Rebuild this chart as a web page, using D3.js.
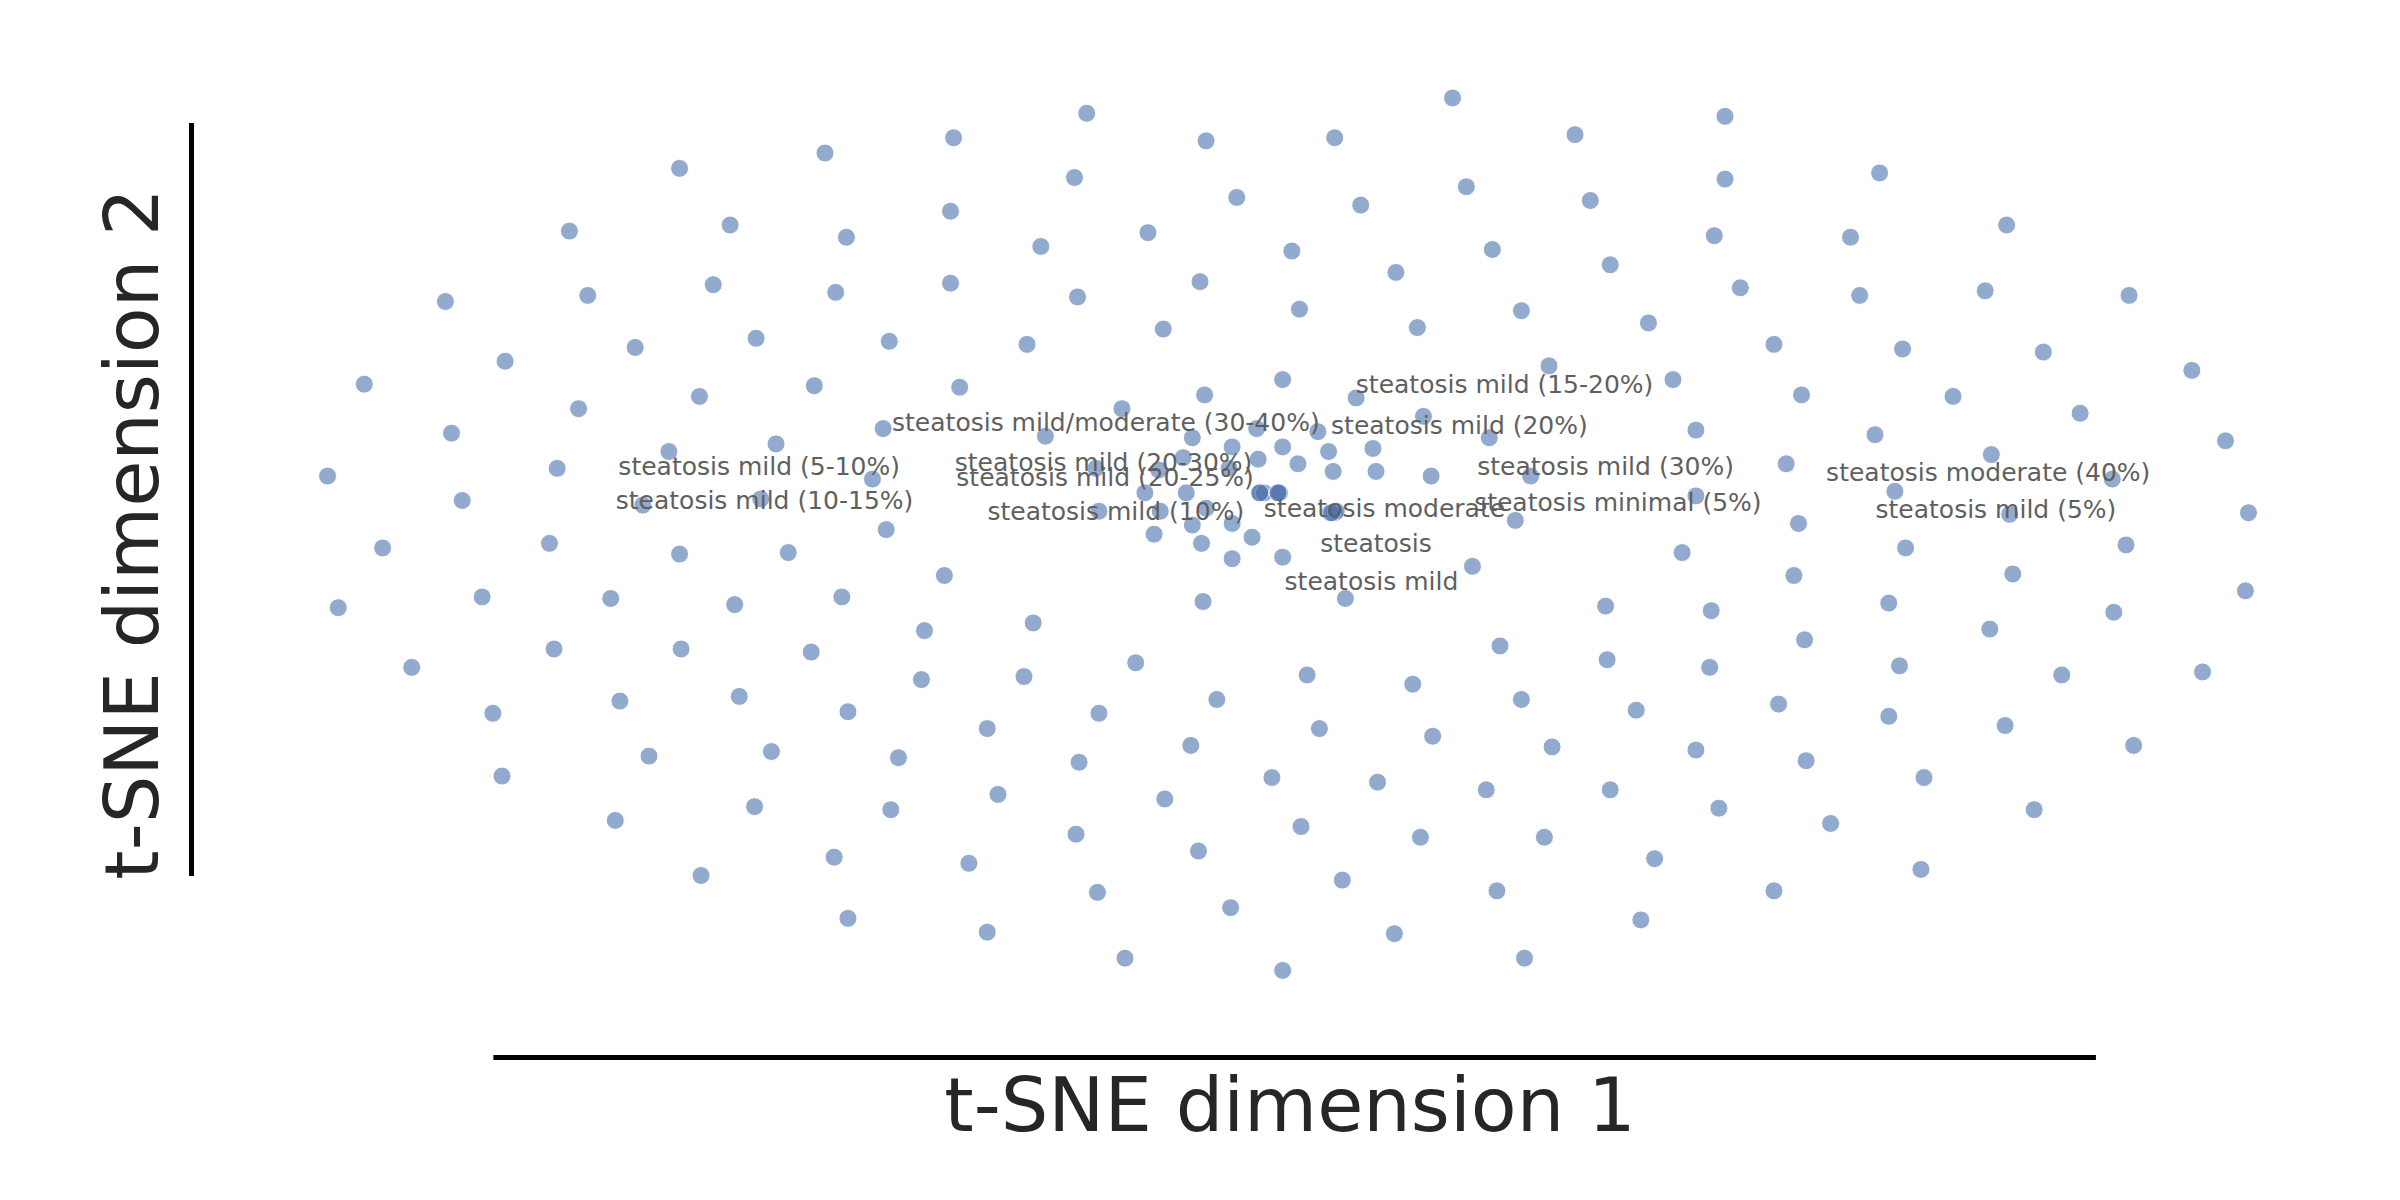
<!DOCTYPE html>
<html>
<head>
<meta charset="utf-8">
<script src="https://cdn.jsdelivr.net/npm/d3@7/dist/d3.min.js"></script>
<style>
  html, body { margin: 0; padding: 0; background: #ffffff; }
  svg { display: block; }
</style>
</head>
<body>
<svg id="chart" width="2400" height="1200"></svg>
<script>
// t-SNE embedding coordinates
const tsne1 = [949,710,1127,1029,623,788,872,539,444,1228,702,1127,958,808,1039,889,621,477,1311,372,750,1120,553,1209,680,844,975,1052,912,784,621,466,1137,1297,384,546,704,1215,1391,291,849,994,1077,926,760,494,581,671,1159,415,1243,1335,330,1012,1432,838,1093,238,627,532,787,886,1177,1276,457,733,378,930,1359,577,821,1108,861,295,683,779,973,1225,1454,507,805,838,437,897,868,1301,773,822,848,716,803,757,1167,364,871,899,1000,935,214,570,1380,823,826,823,835,836,835,775,748,1238,1108,497,420,302,872,869,873,870,758,788,718,990,1313,1469,805,779,579,754,1175,785,359,818,250,1245,1389,838,805,444,515,1099,962,617,1172,1315,1467,879,315,550,786,399,480,1049,1234,1118,1381,221,675,604,1300,1179,980,362,445,530,1241,1050,742,1117,269,1439,854,1347,669,602,923,483,405,795,994,1162,554,718,322,1069,1234,1310,645,862,936,1394,778,1014,1108,504,424,587,705,1180,328,1257,831,900,652,971,1052,761,493,582,1123,1329,402,850,1196,703,928,1009,783,545,1081,633,1255,458,877,717,978,1159,804,554,1072,645,911,735,996,838];
const tsne2 = [64,74,76,88,90,92,90,100,110,113,116,117,122,129,131,134,138,147,147,151,152,154,155,155,161,164,163,173,178,184,185,186,188,190,193,191,194,193,193,197,202,203,211,214,215,221,223,225,225,227,228,230,236,239,242,248,248,251,253,252,258,260,258,259,259,267,267,272,270,280,280,281,282,283,285,286,286,284,288,290,292,292,295,293,295,297,299,300,303,306,306,307,303,306,308,308,311,311,311,313,313,322,322,322,322,322,322,322,322,321,324,326,330,327,335,335,334,335,334,332,334,340,336,335,342,343,346,349,342,355,355,351,358,358,356,364,365,362,361,361,370,376,376,375,386,391,390,390,393,391,395,396,394,399,400,397,407,412,411,418,422,424,424,426,435,431,433,436,436,439,441,441,442,444,447,455,458,457,457,460,465,466,466,464,468,474,476,476,481,487,487,488,490,491,494,495,498,497,507,508,508,511,519,516,516,522,527,529,528,529,536,540,538,545,547,547,556,560,561,564,568,572,575,583,582,582,593,600,601,609,610,626,626,634];

// annotation labels (centre positions in t-SNE units)
const labelText = [
  "steatosis mild (15-20%)",
  "steatosis mild/moderate (30-40%)",
  "steatosis mild (20%)",
  "steatosis mild (5-10%)",
  "steatosis mild (20-30%)",
  "steatosis mild (20-25%)",
  "steatosis mild (30%)",
  "steatosis moderate (40%)",
  "steatosis mild (10-15%)",
  "steatosis minimal (5%)",
  "steatosis mild (5%)",
  "steatosis mild (10%)",
  "steatosis moderate",
  "steatosis",
  "steatosis mild"
];
const labelX = [983, 722.5, 953.5, 496, 721, 722, 1049, 1299, 499.5, 1057, 1304, 729, 904.5, 899, 896];
const labelY = [251, 276, 278, 305, 302, 312, 305, 309, 327, 328, 333, 334, 332, 355, 380];

const xTitle = "t-SNE dimension 1";
const yTitle = "t-SNE dimension 2";

const W = 2400, H = 1200;
const svg = d3.select("#chart");
svg.append("rect").attr("width", W).attr("height", H).attr("fill", "#ffffff");

const x = d3.scaleLinear().domain([0, 1568]).range([0, W]);
const y = d3.scaleLinear().domain([0, 784]).range([0, H]);

const points = tsne1.map((v, i) => ({ a: v, b: tsne2[i] }));

// scatter points
svg.append("g")
  .selectAll("circle")
  .data(points)
  .join("circle")
  .attr("cx", d => x(d.a))
  .attr("cy", d => y(d.b))
  .attr("r", 9)
  .attr("fill", "#4c72b0")
  .attr("stroke", "#ffffff")
  .attr("stroke-width", 1)
  .attr("opacity", 0.6);

// labels
svg.append("g")
  .selectAll("text")
  .data(labelText.map((t, i) => ({ t, lx: labelX[i], ly: labelY[i] })))
  .join("text")
  .attr("x", d => x(d.lx))
  .attr("y", d => y(d.ly))
  .attr("text-anchor", "middle")
  .attr("dominant-baseline", "central")
  .attr("font-family", "DejaVu Sans, sans-serif")
  .attr("font-size", 25)
  .attr("fill", "#5f5f5f")
  .text(d => d.t);

// trimmed, offset spines (no ticks)
const xSpineScale = d3.scaleLinear().domain([322, 1369]).range([x(322), x(1369)]);
const ySpineScale = d3.scaleLinear().domain([80, 572]).range([y(80), y(572)]);

const gx = svg.append("g")
  .attr("transform", "translate(0,1057)")
  .call(d3.axisBottom(xSpineScale).tickValues([]).tickSizeOuter(0));
gx.select(".domain").attr("stroke", "#000000").attr("stroke-width", 5);

const gy = svg.append("g")
  .attr("transform", "translate(191,0)")
  .call(d3.axisLeft(ySpineScale).tickValues([]).tickSizeOuter(0));
gy.select(".domain").attr("stroke", "#000000").attr("stroke-width", 5);

// axis titles
svg.append("text")
  .attr("x", 1290)
  .attr("y", 1131)
  .attr("text-anchor", "middle")
  .attr("font-family", "DejaVu Sans, sans-serif")
  .attr("font-size", 75)
  .attr("fill", "#262626")
  .text(xTitle);

svg.append("text")
  .attr("transform", "translate(158,534) rotate(-90)")
  .attr("text-anchor", "middle")
  .attr("font-family", "DejaVu Sans, sans-serif")
  .attr("font-size", 75)
  .attr("fill", "#262626")
  .text(yTitle);
</script>
</body>
</html>
